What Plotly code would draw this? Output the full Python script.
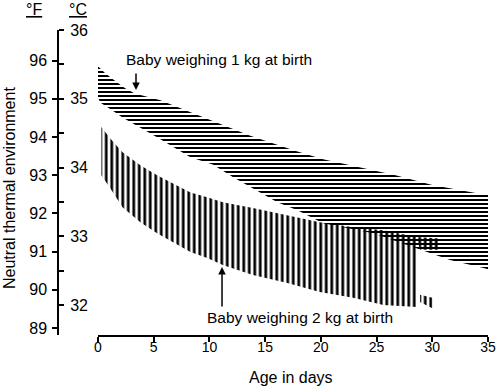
import plotly.graph_objects as go

# ---- data ----
# Baby weighing 1 kg at birth: band (°F) between upper and lower limits
days_1kg_upper = [0, 0.6, 1.4, 2.4, 3.3, 4.4, 5.6, 7.4, 9.2, 13.6, 17.9, 20.2, 26.7, 30.0, 34.0, 35.2]
f_1kg_upper = [95.85, 95.68, 95.50, 95.28, 95.14, 95.05, 94.96, 94.75, 94.54, 94.04, 93.62, 93.42, 93.00, 92.74, 92.53, 92.48]
days_1kg_lower = [0, 0.2, 1.3, 2.2, 5.3, 8.3, 10.3, 12.1, 14.1, 16.1, 17.9, 20.2, 24.7, 27.1, 29.1, 31.6, 34.6, 35.2]
f_1kg_lower = [95.03, 94.90, 94.69, 94.51, 93.99, 93.47, 93.28, 92.95, 92.63, 92.29, 92.08, 91.74, 91.48, 91.25, 91.04, 90.78, 90.57, 90.52]

# Baby weighing 2 kg at birth
days_2kg = [0.3, 1.1, 2.2, 3.8, 5.3, 6.7, 8.3, 9.8, 11.2, 13.9, 17.0, 19.9, 22.9, 25.6, 28.6]
f_2kg_upper = [94.26, 93.96, 93.60, 93.26, 93.00, 92.79, 92.55, 92.42, 92.29, 92.14, 91.95, 91.77, 91.64, 91.56, 91.38]
f_2kg_lower = [93.00, 92.66, 92.16, 91.77, 91.48, 91.25, 90.99, 90.83, 90.65, 90.39, 90.18, 89.94, 89.79, 89.60, 89.55]
# ragged right end of the 2 kg band
days_2kg_stub = [28.6, 30.6, 30.6, 28.9]
f_2kg_stub = [91.38, 91.34, 91.05, 91.05]
days_2kg_tail = [28.9, 30.0, 30.0, 28.9]
f_2kg_tail = [89.87, 89.79, 89.52, 89.68]

x_ticks = [0, 5, 10, 15, 20, 25, 30, 35]
f_ticks = [89, 90, 91, 92, 93, 94, 95, 96]
c_ticks = [32, 33, 34, 35, 36]

F_MIN, F_MAX = 88.817, 96.8
FONT = "Liberation Sans, Arial, sans-serif"
CLEAR = "rgba(0,0,0,0)"

fig = go.Figure()


def hatched(xs, ys, shape, size):
    return go.Scatter(
        x=list(xs) + [xs[0]], y=list(ys) + [ys[0]], mode="lines", fill="toself",
        line=dict(width=0, color=CLEAR),
        fillcolor=CLEAR,
        fillpattern=dict(shape=shape, fgcolor="black", bgcolor=CLEAR, fillmode="replace",
                         size=size, solidity=0.5),
        hoverinfo="skip", showlegend=False,
    )


fig.add_trace(hatched(list(days_1kg_upper) + days_1kg_lower[::-1],
                      list(f_1kg_upper) + f_1kg_lower[::-1], "-", 4))
fig.add_trace(hatched(list(days_2kg) + days_2kg[::-1],
                      list(f_2kg_upper) + f_2kg_lower[::-1], "|", 5.5))
fig.add_trace(hatched(days_2kg_stub, f_2kg_stub, "|", 5.5))
fig.add_trace(hatched(days_2kg_tail, f_2kg_tail, "|", 5.5))
# invisible trace to activate the °C axis
fig.add_trace(go.Scatter(x=[None], y=[None], yaxis="y2", showlegend=False, hoverinfo="skip"))

W, H = 500, 388
ML = 58          # y-axis line at x = 58
MT = 30          # top of plot (36 °C) at y = 30
MB = H - 335     # x-axis at y = 335
MR = W - 488     # x = 35 at x = 488
PW = W - ML - MR
PH = H - MT - MB


def px(xp):
    return (xp - ML) / PW


def py(yp):
    return (H - MB - yp) / PH


fig.update_layout(
    width=W, height=H,
    margin=dict(l=ML, r=MR, t=MT, b=MB, pad=0, autoexpand=False),
    paper_bgcolor="white", plot_bgcolor="white",
    font=dict(family=FONT, color="black", size=16),
    xaxis=dict(domain=[px(98), 1], range=[0, 35], showgrid=False, zeroline=False,
               automargin=False,
               showline=True, linecolor="black", linewidth=1.5,
               ticks="outside", ticklen=5, tickwidth=1.5, tickcolor="black",
               tickvals=x_ticks, tickfont=dict(size=14), ticklabelstandoff=-7),
    yaxis=dict(range=[F_MIN, F_MAX], anchor="free", position=0, side="left",
               automargin=False,
               showgrid=False, zeroline=False, showline=True, linecolor="black", linewidth=1.5,
               ticks="outside", ticklen=5, tickwidth=1.5, tickcolor="black",
               tickvals=f_ticks, tickfont=dict(size=16), ticklabelstandoff=2),
    yaxis2=dict(range=[(F_MIN - 32) / 1.8, (F_MAX - 32) / 1.8], overlaying="y",
                anchor="free", position=0, side="right", automargin=False,
                showgrid=False, zeroline=False, showline=False,
                ticks="outside", ticklen=5, tickwidth=1.5, tickcolor="black",
                tickvals=c_ticks, tickfont=dict(size=16), ticklabelstandoff=3,
                minor=dict(dtick=0.5, tick0=0, ticks="outside", ticklen=5,
                           tickwidth=1.5, tickcolor="black")),
)

ann = []
ann.append(dict(text="Baby weighing 1 kg at birth", x=px(219), y=py(59), xref="paper", yref="paper",
                showarrow=False, font=dict(size=15.5), xanchor="center", yanchor="middle"))
ann.append(dict(text="Baby weighing 2 kg at birth", x=px(300), y=py(317), xref="paper", yref="paper",
                showarrow=False, font=dict(size=15.5), xanchor="center", yanchor="middle"))
ann.append(dict(text="", x=3.41, y=95.23, xref="x", yref="y", ax=0, ay=-18,
                showarrow=True, arrowhead=2, arrowsize=1, arrowwidth=1.5, arrowcolor="black"))
ann.append(dict(text="", x=11.13, y=90.60, xref="x", yref="y", ax=0, ay=41,
                showarrow=True, arrowhead=2, arrowsize=1, arrowwidth=1.5, arrowcolor="black"))
ann.append(dict(text="Age in days", x=px(291), y=py(377), xref="paper", yref="paper",
                showarrow=False, font=dict(size=16), xanchor="center", yanchor="middle"))
ann.append(dict(text="Neutral thermal environment", x=px(9), y=py(188), xref="paper", yref="paper",
                showarrow=False, font=dict(size=16), textangle=-90, xanchor="center", yanchor="middle"))
ann.append(dict(text="<u>°F</u>", x=px(34), y=py(10), xref="paper", yref="paper",
                showarrow=False, font=dict(size=16), xanchor="center", yanchor="middle"))
ann.append(dict(text="<u>°C</u>", x=px(78), y=py(10), xref="paper", yref="paper",
                showarrow=False, font=dict(size=16), xanchor="center", yanchor="middle"))
fig.update_layout(annotations=ann)

# remove the browser's default 8px page margin so the figure sits at the window origin
fig.write_html("out.html", config={"displayModeBar": False},
               post_script="document.body.style.margin='0';")
